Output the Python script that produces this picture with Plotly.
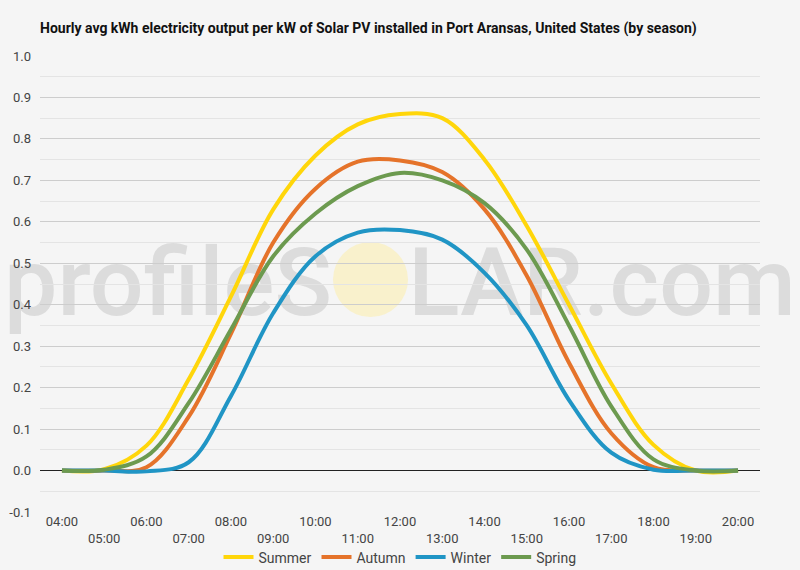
import plotly.graph_objects as go

hours = list(range(4, 21))
tick_labels = ["04:00", "05:00", "06:00", "07:00", "08:00", "09:00", "10:00", "11:00", "12:00",
               "13:00", "14:00", "15:00", "16:00", "17:00", "18:00", "19:00", "20:00"]

summer = [0.0, 0.003, 0.06, 0.22, 0.42, 0.63, 0.76, 0.835, 0.86, 0.85, 0.75, 0.59, 0.40, 0.21, 0.062, 0.0, 0.0]
autumn = [0.0, 0.0, 0.008, 0.13, 0.33, 0.55, 0.68, 0.745, 0.748, 0.72, 0.63, 0.47, 0.26, 0.09, 0.008, 0.0, 0.0]
winter = [0.0, 0.0, -0.002, 0.02, 0.18, 0.38, 0.517, 0.574, 0.58, 0.557, 0.477, 0.35, 0.17, 0.043, 0.002, 0.0, 0.0]
spring = [0.0, 0.002, 0.034, 0.163, 0.34, 0.517, 0.62, 0.686, 0.718, 0.70, 0.645, 0.533, 0.35, 0.155, 0.027, 0.0, 0.0]

series = [("Summer", summer, "#FFD60A"),
          ("Autumn", autumn, "#E5732A"),
          ("Winter", winter, "#2095C5"),
          ("Spring", spring, "#6C9A4F")]

fig = go.Figure()

for name, vals, col in series:
    fig.add_trace(go.Scatter(x=hours, y=vals, name=name, mode="lines",
                             line=dict(color=col, width=4, shape="spline", smoothing=1)))

ticktext = [t if i % 2 == 0 else "<br>" + t for i, t in enumerate(tick_labels)]


def px_x(p):
    return (p - 40) / 720.0


def px_y(p):
    return (512 - p) / 456.0


wm_font = dict(family="Roboto", size=95, color="#dcdcdc", weight=500)
shapes = [
    dict(type="circle", xref="paper", yref="paper", layer="below",
         x0=px_x(333), x1=px_x(408), y0=px_y(317), y1=px_y(242),
         fillcolor="#f9f1cc", line=dict(width=0)),
    dict(type="rect", xref="paper", yref="paper", layer="below",
         x0=px_x(4), x1=px_x(332), y0=px_y(322), y1=px_y(228),
         fillcolor="rgba(0,0,0,0)", line=dict(width=0),
         label=dict(text="profileS", textposition="middle center", font=wm_font, padding=0)),
    dict(type="rect", xref="paper", yref="paper", layer="below",
         x0=px_x(408), x1=px_x(796), y0=px_y(322), y1=px_y(228),
         fillcolor="rgba(0,0,0,0)", line=dict(width=0),
         label=dict(text="LAR.com", textposition="middle center", font=wm_font, padding=0)),
]

fig.update_layout(
    width=800, height=570,
    paper_bgcolor="#f5f5f5", plot_bgcolor="#f5f5f5",
    margin=dict(l=40, r=40, t=56, b=58),
    title=dict(text="<b>Hourly avg kWh electricity output per kW of Solar PV installed in Port Aransas, United States (by season)</b>",
               x=0.05, xanchor="left", y=0.951, yanchor="middle",
               font=dict(family="Roboto", size=14, color="#111")),
    font=dict(family="Roboto", size=13, color="#555"),
    xaxis=dict(range=[3.48, 20.52], tickmode="array", tickvals=hours, ticktext=ticktext,
               showgrid=False, zeroline=False, showline=False, ticks="", automargin=False,
               tickfont=dict(size=13, color="#444")),
    yaxis=dict(range=[-0.1, 1.0], tickmode="array",
               tickvals=[-0.1, 0.0, 0.1, 0.2, 0.3, 0.4, 0.5, 0.6, 0.7, 0.8, 0.9, 1.0],
               ticktext=["-0.1", "0.0", "0.1", "0.2", "0.3", "0.4", "0.5", "0.6", "0.7", "0.8", "0.9", "1.0"],
               showgrid=True, gridcolor="#cdcdcd", gridwidth=1,
               minor=dict(dtick=0.05, showgrid=True, gridcolor="#e4e4e4", gridwidth=1),
               zeroline=True, zerolinecolor="#222", zerolinewidth=1.2, automargin=False,
               ticks="", ticklabelstandoff=8, tickfont=dict(size=13, color="#444")),
    legend=dict(orientation="h", x=0.5, xanchor="center", yref="container", y=0.05, yanchor="top",
                font=dict(size=14, color="#444"), itemwidth=30, tracegroupgap=0,
                bgcolor="rgba(0,0,0,0)"),
    shapes=shapes,
    showlegend=True,
)

fig.write_html("out.html")
